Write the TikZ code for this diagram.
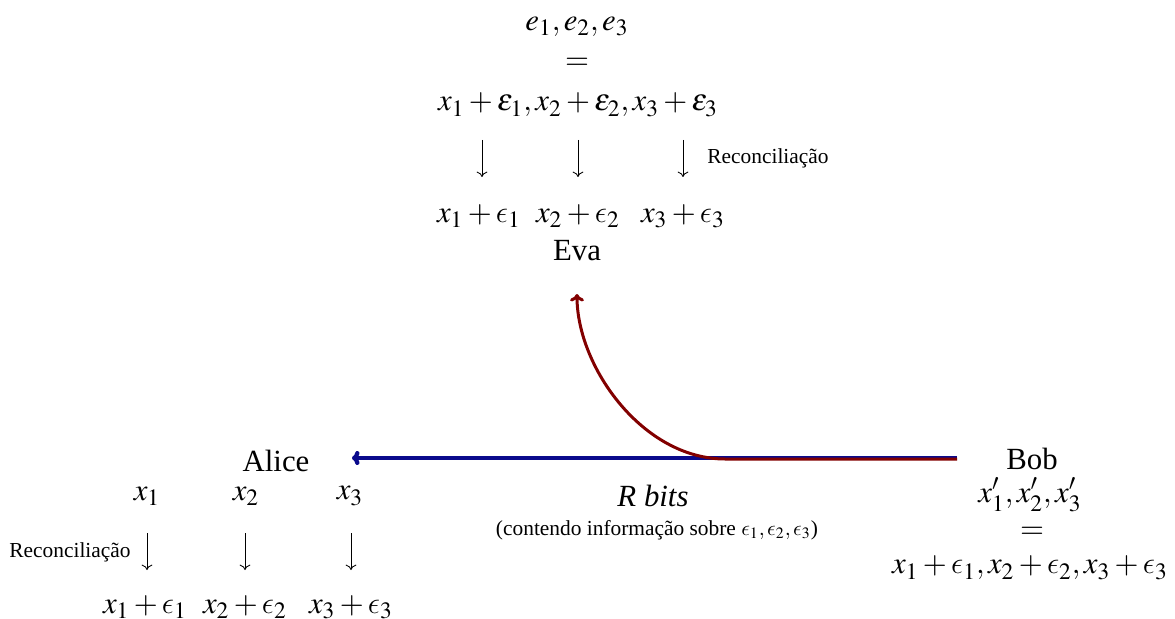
\documentclass[tikz,border=0pt]{standalone}
\usepackage{mathptmx}
\usepackage[no-math]{fontspec}
\setmainfont{Liberation Serif}
\DeclareSymbolFont{cmletters}{OML}{cmm}{m}{it}
\DeclareMathSymbol{\epsilon}{\mathord}{cmletters}{"0F}
\usetikzlibrary{arrows.meta}
\definecolor{myblue}{RGB}{10,10,140}
\definecolor{myred}{RGB}{130,0,0}
\begin{document}
\begin{tikzpicture}[x=0.4675pt,y=-0.4675pt,
  big/.style={font=\fontsize{14.4}{17}\selectfont, inner sep=0pt},
  small/.style={font=\fontsize{10}{12}\selectfont, inner sep=0pt},
  darr/.style={line width=0.4pt, -{To[length=2.5pt,width=5pt]}},
  chanb/.style={line width=2pt, -{To[length=3.5pt,width=6.5pt]}},
  chanr/.style={line width=1.4pt, -{To[length=3.5pt,width=6.5pt]}}]
\useasboundingbox (0,0) rectangle (1175,619);

% Eva
\node[big] (e) at (577,27) {$e_1, e_2, e_3$};
\node[big] (eqe) at (577,64) {$=$};
\node[big] (ex) at (578,105) {$x_1+\varepsilon_1, x_2+\varepsilon_2, x_3+\varepsilon_3$};
\coordinate (ta1) at (482,140); \coordinate (tb1) at (482,177);
\coordinate (ta2) at (578,140); \coordinate (tb2) at (578,177);
\coordinate (ta3) at (683,140); \coordinate (tb3) at (683,177);
\draw[darr] (ta1) -- (tb1);
\draw[darr] (ta2) -- (tb2);
\draw[darr] (ta3) -- (tb3);
\node[small] (rtop) at (768,158) {Reconciliação};
\node[big] (ev1) at (479,216) {$x_1+\epsilon_1$};
\node[big] (ev2) at (578,216) {$x_2+\epsilon_2$};
\node[big] (ev3) at (683,216) {$x_3+\epsilon_3$};
\node[big] (eva) at (577,251) {Eva};

% Alice
\node[big] (alice) at (276,461) {Alice};
\node[big] (a1) at (147,496) {$x_1$};
\node[big] (a2) at (246,496) {$x_2$};
\node[big] (a3) at (350,496) {$x_3$};
\coordinate (la1) at (147,533); \coordinate (lb1) at (147,570);
\coordinate (la2) at (245,533); \coordinate (lb2) at (245,570);
\coordinate (la3) at (351,533); \coordinate (lb3) at (351,570);
\draw[darr] (la1) -- (lb1);
\draw[darr] (la2) -- (lb2);
\draw[darr] (la3) -- (lb3);
\node[small] (rbot) at (70,552) {Reconciliação};
\node[big] (av1) at (145,607) {$x_1+\epsilon_1$};
\node[big] (av2) at (245,607) {$x_2+\epsilon_2$};
\node[big] (av3) at (351,607) {$x_3+\epsilon_3$};

% Bob
\node[big] (bob) at (1032,459) {Bob};
\node[big] (bx) at (1030,495) {$x_1', x_2', x_3'$};
\node[big] (beq) at (1032,533) {$=$};
\node[big] (bv) at (1030,568) {$x_1+\epsilon_1, x_2+\epsilon_2, x_3+\epsilon_3$};

% channel
\node[big] (rbits) at (653,496) {\textit{R bits}};
\node[small] (cont) at (657,530) {(contendo informação sobre $\epsilon_1,\epsilon_2,\epsilon_3$)};
\coordinate (bobw) at (957,458);
\coordinate (alicee) at (352,458);
\coordinate (bobwr) at (957,459);
\coordinate (turn) at (725,459);
\coordinate (evas) at (577,294);
\draw[chanb, myblue] (bobw) -- (alicee);
\draw[chanr, myred] (bobwr) -- (turn) .. controls (643,459) and (577,367) .. (evas);
\end{tikzpicture}
\end{document}
